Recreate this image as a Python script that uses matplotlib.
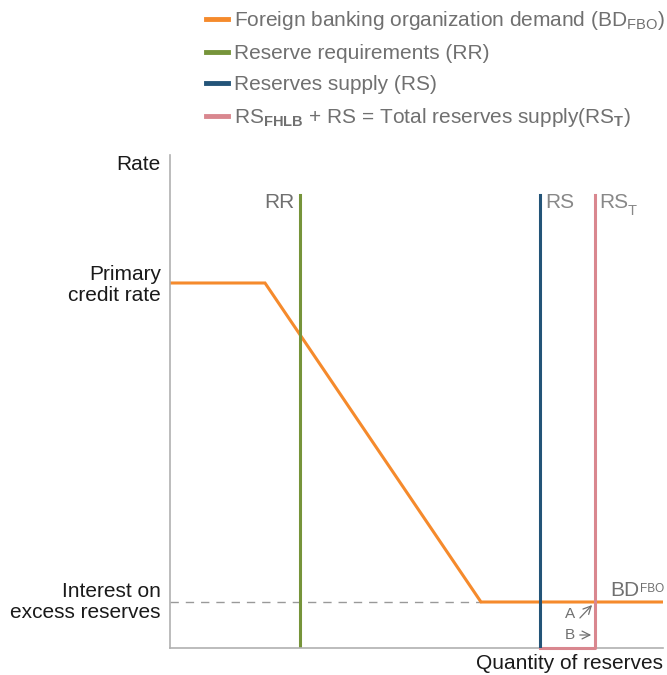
import matplotlib.pyplot as plt
from matplotlib.lines import Line2D

plt.rcParams['font.family'] = ['Liberation Sans', 'DejaVu Sans']
plt.rcParams['mathtext.fontset'] = 'custom'
plt.rcParams['mathtext.rm'] = 'Liberation Sans'
plt.rcParams['mathtext.bf'] = 'Liberation Sans:bold'

# schematic coordinates (arbitrary units)
bd_x = [0, 95, 311, 493]
bd_y = [365, 365, 46, 46]
rr_x = 130
rs_x = 370
rst_x = 425
curve_top = 453
ioer = 46
pcr = 365

orange = '#f58a2c'
green = '#76943a'
navy = '#235478'
pink = '#d9878f'
gray_txt = '#707070'

fig = plt.figure(figsize=(6.67, 6.75), dpi=100)
ax = fig.add_axes([170 / 667, 27 / 675, 493 / 667, 493 / 675])
ax.set_xlim(0, 493)
ax.set_ylim(0, 493)

ax.plot([0, bd_x[2]], [ioer, ioer], color='#999999', lw=1, ls=(0, (6, 5)))
ax.plot(bd_x, bd_y, color=orange, lw=2.2, solid_joinstyle='miter')
ax.plot([rr_x, rr_x], [0, curve_top], color=green, lw=2.2)
ax.plot([rst_x, rst_x, rs_x], [curve_top, 0, 0], color=pink, lw=2.2,
        clip_on=False, zorder=3)
ax.plot([rs_x, rs_x], [0, curve_top], color=navy, lw=2.2, zorder=3.5)

for s in ['top', 'right']:
    ax.spines[s].set_visible(False)
for s in ['left', 'bottom']:
    ax.spines[s].set_color('#b0b0b0')
    ax.spines[s].set_linewidth(1.2)
ax.set_xticks([])
ax.set_yticks([])

# axis texts
lab = dict(fontsize=15, color='#1a1a1a')
ax.text(-9, 484, 'Rate', ha='right', va='center', **lab)
ax.text(-9, pcr - 2, 'Primary\ncredit rate', ha='right', va='center', linespacing=1.1, **lab)
ax.text(-9, ioer, 'Interest on\nexcess reserves', ha='right', va='center', linespacing=1.1, **lab)
ax.text(493, -6, 'Quantity of reserves', ha='right', va='top', **lab)

# line labels
ax.text(rr_x - 5, 446, 'RR', ha='right', va='center', fontsize=15, color=gray_txt)
ax.text(rs_x + 5, 446, 'RS', ha='left', va='center', fontsize=15, color='#888888')
ax.text(rst_x + 4, 446, 'RS', ha='left', va='center', fontsize=15, color='#888888')
ax.text(rst_x + 33, 437, 'T', ha='left', va='center', fontsize=10.5, color='#888888')
ax.text(440, 58, 'BD', ha='left', va='center', fontsize=15, color=gray_txt)
ax.text(470, 59, 'FBO', ha='left', va='center', fontsize=8.5, color=gray_txt)
ax.text(395, 34, 'A', ha='left', va='center', fontsize=11, color=gray_txt)
ax.text(395, 13, 'B', ha='left', va='center', fontsize=11, color=gray_txt)
ax.annotate('', xy=(424, 45), xytext=(408, 28),
            arrowprops=dict(arrowstyle='->', color=gray_txt, lw=0.9, mutation_scale=14))
ax.annotate('', xy=(424, 13), xytext=(407, 13),
            arrowprops=dict(arrowstyle='->', color=gray_txt, lw=0.9, mutation_scale=14))

handles = [Line2D([], [], color=c, lw=3.5) for c in [orange, green, navy, pink]]
labels = [r'Foreign banking organization demand (BD$_{\mathrm{FBO}}$)',
          'Reserve requirements (RR)',
          'Reserves supply (RS)',
          r'RS$_{\mathbf{FHLB}}$ + RS = Total reserves supply(RS$_{\mathbf{T}}$)']
leg = fig.legend(handles, labels, loc='upper left', bbox_to_anchor=(206 / 667, 1 - 9 / 675),
                 frameon=False, fontsize=15, handlelength=1.05, handletextpad=0.3,
                 labelspacing=0.58, borderaxespad=0, borderpad=0)
for t in leg.get_texts():
    t.set_color(gray_txt)

fig.savefig('out.png', dpi=100)
